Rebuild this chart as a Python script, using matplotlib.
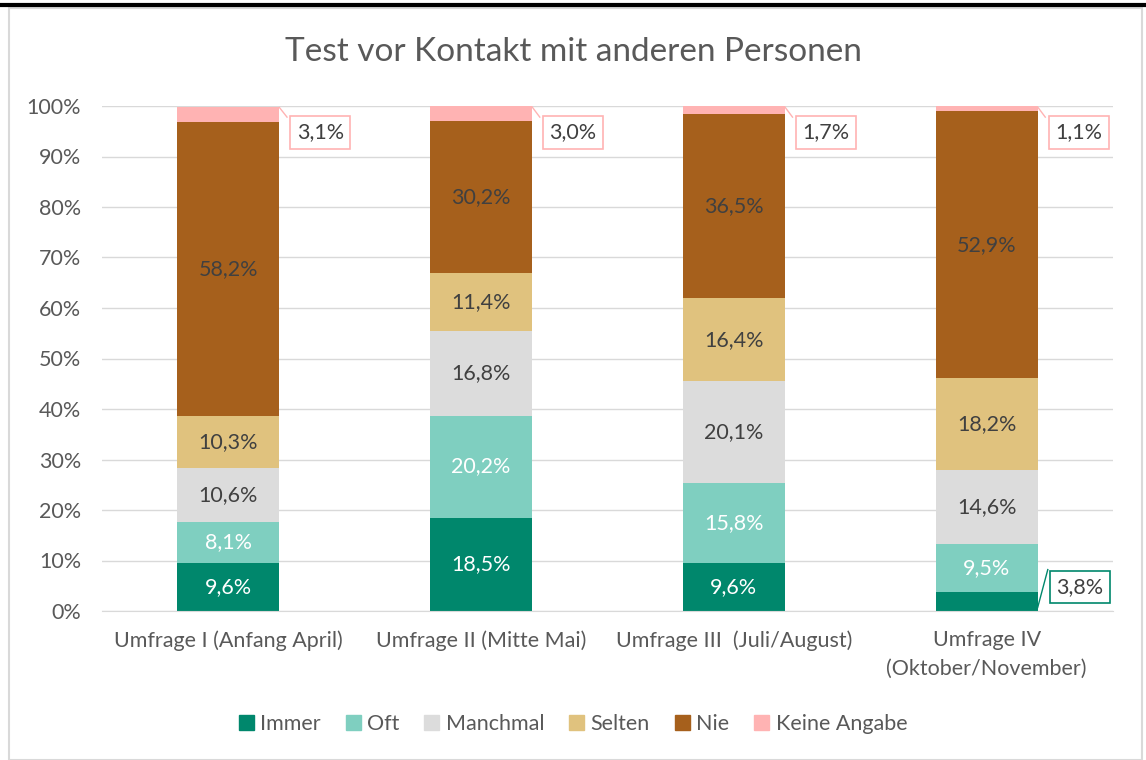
import numpy as np
import matplotlib.pyplot as plt
from matplotlib.patches import Rectangle
from matplotlib.lines import Line2D

plt.rcParams["font.family"] = ["Lato", "DejaVu Sans"]

categories = ["Umfrage I (Anfang April)", "Umfrage II (Mitte Mai)",
              "Umfrage III  (Juli/August)", "Umfrage IV\n(Oktober/November)"]
series = ["Immer", "Oft", "Manchmal", "Selten", "Nie", "Keine Angabe"]
immer = [9.6, 18.5, 9.6, 3.8]
oft = [8.1, 20.2, 15.8, 9.5]
manchmal = [10.6, 16.8, 20.1, 14.6]
selten = [10.3, 11.4, 16.4, 18.2]
nie = [58.2, 30.2, 36.5, 52.9]
keine = [3.1, 3.0, 1.7, 1.1]

colors = ["#00876C", "#7FCFC0", "#DCDCDC", "#E0C27E", "#A6601C", "#FFB3B3"]
text_colors = ["white", "white", "#404040", "#404040", "#404040", None]
values = [immer, oft, manchmal, selten, nie, keine]

FS = 15.5

fig = plt.figure(figsize=(11.46, 7.6), dpi=100)
ax = fig.add_axes([102 / 1146, 1 - 611 / 760, 1011 / 1146, 505 / 760])

x = np.arange(len(categories))
w = 0.404
bottom = np.zeros(len(categories))
for name, vals, col, tc in zip(series, values, colors, text_colors):
    v = np.array(vals) / 100
    ax.bar(x, v, width=w, bottom=bottom, color=col, label=name, zorder=2)
    for i in range(len(x)):
        lab = f"{vals[i]:.1f}%".replace(".", ",")
        if name == "Keine Angabe":
            top = min(bottom[i] + v[i], 1.0)
            bx, by = x[i] + 0.364, 0.948
            ax.plot([x[i] + w / 2, x[i] + w / 2 + 0.03], [top - 0.002, 0.978],
                    color=col, lw=1, zorder=3, clip_on=False)
            ax.text(bx, by, lab, ha="center", va="center", fontsize=FS, color="#404040",
                    bbox=dict(boxstyle="square,pad=0.3", fc="white", ec=col, lw=1.2), zorder=4)
        elif name == "Immer" and vals[i] < 5:
            ax.plot([x[i] + w / 2, x[i] + w / 2 + 0.04], [0.007, 0.082],
                    color=col, lw=1, zorder=3)
            ax.text(x[i] + 0.368, 0.0475, lab, ha="center", va="center", fontsize=FS,
                    color="#404040",
                    bbox=dict(boxstyle="square,pad=0.3", fc="white", ec=col, lw=1.2), zorder=4)
        else:
            ax.text(x[i], bottom[i] + v[i] / 2, lab, ha="center", va="center",
                    fontsize=FS, color=tc, zorder=3)
    bottom = bottom + v

ax.set_xlim(-0.5, 3.5)
ax.set_ylim(0, 1.0)
ax.set_yticks(np.arange(0, 1.01, 0.1))
ax.set_yticklabels([f"{int(t)}%" for t in np.arange(0, 101, 10)])
ax.set_xticks(x)
ax.set_xticklabels(categories, va="top", linespacing=1.55)
ax.tick_params(axis="both", length=0, labelsize=FS, labelcolor="#595959")
ax.tick_params(axis="y", pad=15)
ax.tick_params(axis="x", pad=14)
ax.yaxis.grid(True, color="#D9D9D9", lw=1, zorder=0)
ax.set_axisbelow(True)
for s in ["top", "right", "left"]:
    ax.spines[s].set_visible(False)
ax.spines["bottom"].set_color("#D9D9D9")

fig.text(0.5, 1 - 52 / 760, "Test vor Kontakt mit anderen Personen", ha="center",
         va="center", fontsize=24, color="#595959")

handles = [Rectangle((0, 0), 1, 1, color=c) for c in colors]
fig.legend(handles, series, loc="center", bbox_to_anchor=(0.5, 1 - 724 / 760),
           ncol=6, frameon=False, fontsize=FS, handlelength=0.7, handleheight=0.7,
           handletextpad=0.3, columnspacing=1.15, labelcolor="#595959")

# chart border and top rule
fig.add_artist(Rectangle((9 / 1146, 0), 1133 / 1146, 1 - 8 / 760, transform=fig.transFigure,
                         fill=False, ec="#D9D9D9", lw=1.5))
fig.add_artist(Line2D([0, 1], [1 - 5 / 760, 1 - 5 / 760], transform=fig.transFigure,
                      color="black", lw=3))

fig.savefig("out.png", dpi=100)
